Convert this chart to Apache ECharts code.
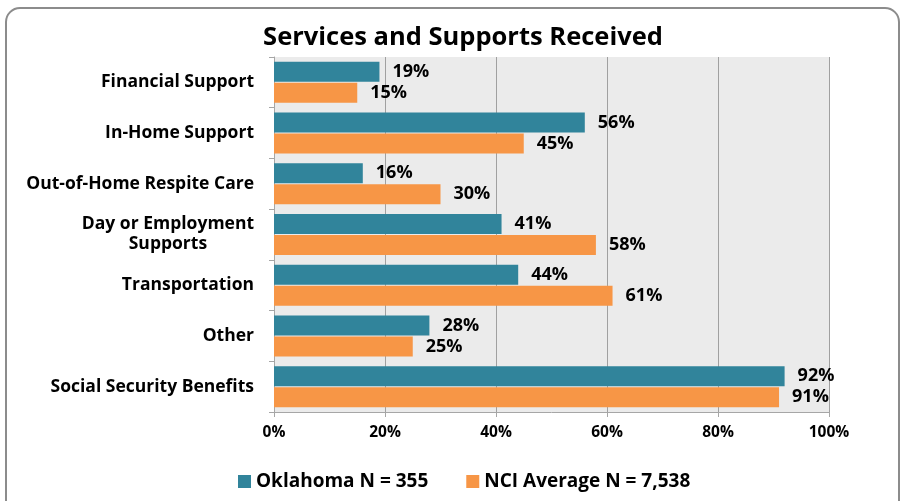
<!DOCTYPE html>
<html>
<head>
<meta charset="utf-8">
<script src="https://cdn.jsdelivr.net/npm/echarts@6/dist/echarts.min.js"></script>
<style>
  html, body { margin: 0; padding: 0; background: #fff; }
  #chart { width: 905px; height: 501px; }
</style>
</head>
<body>
<div id="chart"></div>
<script>
const categories = [
    'Financial Support',
    'In-Home Support',
    'Out-of-Home Respite Care',
    'Day or Employment\nSupports',
    'Transportation',
    'Other',
    'Social Security Benefits'
];
const oklahoma = [19, 56, 16, 41, 44, 28, 92];
const nciAverage = [15, 45, 30, 58, 61, 25, 91];
const xTicks = [0, 20, 40, 60, 80, 100];

const font = '"Open Sans", "Liberation Sans", sans-serif';

const chart = echarts.init(document.getElementById('chart'), null, { renderer: 'canvas' });

function barLabel() {
    return {
        show: true,
        position: 'right',
        distance: 13,
        formatter: '{c}%',
        color: '#000',
        fontFamily: font,
        fontWeight: 'bold',
        fontSize: 18
    };
}

chart.setOption({
    animation: false,
    title: {
        text: 'Services and Supports Received',
        left: 458,
        textAlign: 'center',
        top: 20,
        textStyle: { fontFamily: font, fontWeight: 'bold', fontSize: 25.5, color: '#000' }
    },
    graphic: [{
        type: 'rect',
        shape: { x: 6, y: 8, width: 893, height: 510, r: 14 },
        style: { fill: 'none', stroke: '#8c8c8c', lineWidth: 2 },
        z: -1
    }],
    legend: {
        bottom: 5,
        left: 233,
        itemWidth: 13,
        itemHeight: 13,
        itemGap: 38,
        icon: 'rect',
        textStyle: { fontFamily: font, fontWeight: 'bold', fontSize: 19, color: '#000' },
        data: ['Oklahoma N = 355', 'NCI Average N = 7,538']
    },
    grid: { left: 274, right: 76, top: 57, bottom: 89, show: true, backgroundColor: '#ebebeb', borderWidth: 0 },
    xAxis: {
        type: 'value',
        min: 0,
        max: 100,
        interval: 20,
        axisLine: { show: true, lineStyle: { color: '#a6a6a6' } },
        axisTick: { show: true, length: 5, lineStyle: { color: '#a6a6a6' } },
        splitLine: { show: true, lineStyle: { color: '#a0a0a0', width: 1 } },
        axisLabel: {
            margin: 13,
            formatter: v => xTicks.includes(v) ? v + '%' : '',
            fontFamily: font, fontWeight: 'bold', fontSize: 15.5, color: '#000'
        }
    },
    yAxis: {
        type: 'category',
        inverse: true,
        data: categories,
        axisLine: { show: true, lineStyle: { color: '#a6a6a6' } },
        axisTick: { show: true, length: 5, lineStyle: { color: '#a6a6a6' } },
        axisLabel: {
            margin: 20,
            align: 'right',
            formatter: v => v.split('\n').map(s => '{c|' + s + '}').join('\n'),
            rich: {
                c: {
                    align: 'center',
                    lineHeight: 20,
                    fontFamily: font, fontWeight: 'bold', fontSize: 17.5, color: '#000'
                }
            },
            fontFamily: font, fontWeight: 'bold', fontSize: 17.5, color: '#000'
        }
    },
    series: [
        {
            name: 'Oklahoma N = 355',
            type: 'bar',
            data: oklahoma,
            barWidth: 20,
            barGap: '5%',
            itemStyle: { color: '#31849b' },
            label: barLabel()
        },
        {
            name: 'NCI Average N = 7,538',
            type: 'bar',
            data: nciAverage,
            barWidth: 20,
            itemStyle: { color: '#f79646' },
            label: barLabel()
        }
    ]
});
</script>
</body>
</html>
